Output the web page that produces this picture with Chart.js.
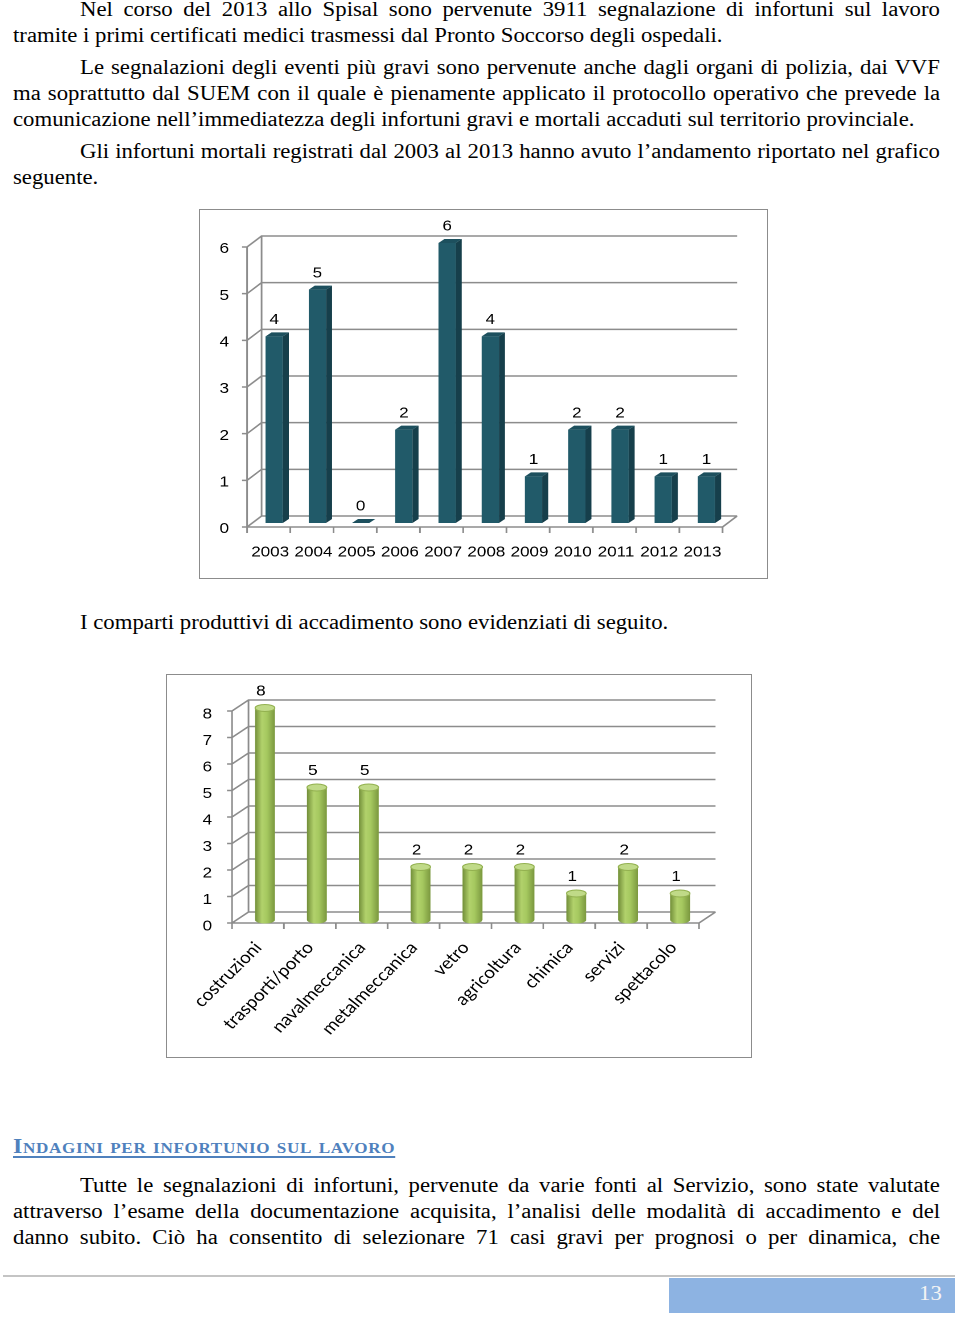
<!DOCTYPE html>
<html>
<head>
<meta charset="utf-8">
<script src="https://cdn.jsdelivr.net/npm/chart.js@4.4.0/dist/chart.umd.min.js"></script>
<style>
    /* the page scan is stretched horizontally by about 1.1375, so text and charts are too */
    body { margin: 0; background: #fff; width: 960px; height: 1319px; position: relative; overflow: hidden;
           font-family: "Liberation Serif", "Times New Roman", serif; font-size: 20px; color: #000; }
    .st { transform: scaleX(1.1375); transform-origin: 0 0; }
    .ln { position: absolute; left: 13px; width: 815px; height: 26px; line-height: 26px; white-space: nowrap; }
    .j { text-align: justify; text-align-last: justify; }
    .ind { left: 80px; width: 756px; }
    .frame { position: absolute; border: 1.5px solid #8c8c8c; box-sizing: border-box; }
    .holder { position: absolute; }
    .heading { position: absolute; left: 13px; top: 1134px; font-size: 21px; font-weight: bold; font-variant: small-caps;
               letter-spacing: 0.6px; color: #4f81bd; text-decoration: underline; text-underline-offset: 3px; white-space: nowrap; }
    .rule { position: absolute; left: 3px; top: 1275px; width: 952px; height: 2px; background: #c4c4c4; }
    .pagebox { position: absolute; left: 669px; top: 1278px; width: 286px; height: 35px; background: #8db3e2; }
    .pagenum { position: absolute; left: 250px; top: 4px; font-size: 20px; color: #f4f4f4; }
</style>
</head>
<body>

<div class="ln ind j st" style="top:-4px">Nel corso del 2013 allo Spisal sono pervenute 3911 segnalazione di infortuni sul lavoro</div>
<div class="ln st" style="top:22px">tramite i primi certificati medici trasmessi dal Pronto Soccorso degli ospedali.</div>
<div class="ln ind j st" style="top:54px">Le segnalazioni degli eventi più gravi sono pervenute anche dagli organi di polizia, dai VVF</div>
<div class="ln j st" style="top:80px">ma soprattutto dal SUEM con il quale è pienamente applicato il protocollo operativo che prevede la</div>
<div class="ln st" style="top:106px">comunicazione nell’immediatezza degli infortuni gravi e mortali accaduti sul territorio provinciale.</div>
<div class="ln ind j st" style="top:138px">Gli infortuni mortali registrati dal 2003 al 2013 hanno avuto l’andamento riportato nel grafico</div>
<div class="ln st" style="top:164px">seguente.</div>

<div class="holder st" style="left:200px;top:210px;width:498.5px;height:368px"><canvas id="yearChart"></canvas></div>
<div class="frame" style="left:199px;top:209px;width:569px;height:370px"></div>

<div class="ln st" style="left:80px;top:609px">I comparti produttivi di accadimento sono evidenziati di seguito.</div>

<div class="holder st" style="left:166px;top:674px;width:514.3px;height:383px"><canvas id="sectorChart"></canvas></div>
<div class="frame" style="left:166px;top:674px;width:586px;height:384px"></div>

<div class="heading st">Indagini per infortunio sul lavoro</div>
<div class="ln ind j st" style="top:1172px">Tutte le segnalazioni di infortuni, pervenute da varie fonti al Servizio, sono state valutate</div>
<div class="ln j st" style="top:1198px">attraverso l’esame della documentazione acquisita, l’analisi delle modalità di accadimento e del</div>
<div class="ln j st" style="top:1224px">danno subito. Ciò ha consentito di selezionare 71 casi gravi per prognosi o per dinamica, che</div>

<div class="rule"></div>
<div class="pagebox"><span class="pagenum st">13</span></div>

<script>
// infortuni mortali per anno
const years = ['2003', '2004', '2005', '2006', '2007', '2008', '2009', '2010', '2011', '2012', '2013'];
const fatalities = [4, 5, 0, 2, 6, 4, 1, 2, 2, 1, 1];
const yearTicks = [0, 1, 2, 3, 4, 5, 6];

// comparti produttivi
const sectors = ['costruzioni', 'trasporti/porto', 'navalmeccanica', 'metalmeccanica', 'vetro',
                 'agricoltura', 'chimica', 'servizi', 'spettacolo'];
const sectorCounts = [8, 5, 5, 2, 2, 2, 1, 2, 1];
const sectorTicks = [0, 1, 2, 3, 4, 5, 6, 7, 8];

const STRETCH = 1.1375;

Chart.defaults.animation = false;
Chart.defaults.font.family = '"Liberation Sans", Arial, sans-serif';
Chart.defaults.color = '#000';

// back wall, side wall and floor of the 3D plot, drawn off the y scale
const wall3d = {
    id: 'wall3d',
    beforeDatasetsDraw(chart, args, o) {
        const { ctx, chartArea: a, scales: { x, y } } = chart;
        const fl = a.left + o.front[0], fr = a.right + o.front[0];
        const bl = a.left + o.back[0], br = a.right + o.back[0];
        const y0 = y.getPixelForValue(0), yTop = y.getPixelForValue(y.max);
        const tick = 5 / STRETCH;
        ctx.save();
        ctx.strokeStyle = '#8c8c8c';
        ctx.lineWidth = 1.5;
        ctx.beginPath();
        o.ticks.forEach(v => {
            const py = y.getPixelForValue(v);
            ctx.moveTo(fl - tick, py + o.front[1]);
            ctx.lineTo(fl, py + o.front[1]);
            ctx.lineTo(bl, py + o.back[1]);
            ctx.lineTo(br, py + o.back[1]);
        });
        ctx.moveTo(fl, yTop + o.front[1]);
        ctx.lineTo(fl, y0 + o.front[1]);
        ctx.moveTo(bl, yTop + o.back[1]);
        ctx.lineTo(bl, y0 + o.back[1]);
        ctx.moveTo(fl, y0 + o.front[1]);
        ctx.lineTo(fr, y0 + o.front[1]);
        ctx.lineTo(br, y0 + o.back[1]);
        const n = x.ticks.length;
        for (let i = 0; i <= n; i++) {
            const px = fl + (fr - fl) * i / n;
            ctx.moveTo(px, y0 + o.front[1]);
            ctx.lineTo(px, y0 + o.front[1] + 6);
        }
        ctx.stroke();
        ctx.restore();
    }
};

// side and top faces for the box bars, or the cylinder shading, plus value labels
const bars3d = {
    id: 'bars3d',
    afterDatasetsDraw(chart, args, o) {
        const { ctx } = chart;
        const meta = chart.getDatasetMeta(0);
        ctx.save();
        meta.data.forEach((el, i) => {
            const l = el.x - el.width / 2, r = el.x + el.width / 2, t = el.y, b = el.base;
            if (o.shape === 'box') {
                const dx = 6 / STRETCH, dy = 4;
                ctx.fillStyle = '#163f4b';
                ctx.beginPath();
                ctx.moveTo(r, t); ctx.lineTo(r + dx, t - dy); ctx.lineTo(r + dx, b - dy); ctx.lineTo(r, b);
                ctx.closePath(); ctx.fill();
                ctx.fillStyle = '#1d505e';
                ctx.beginPath();
                ctx.moveTo(l, t); ctx.lineTo(l + dx, t - dy); ctx.lineTo(r + dx, t - dy); ctx.lineTo(r, t);
                ctx.closePath(); ctx.fill();
            } else {
                const rx = el.width / 2, ry = 3.5;
                const g = ctx.createLinearGradient(l, 0, r, 0);
                g.addColorStop(0, '#738f3a');
                g.addColorStop(0.35, '#b2d26c');
                g.addColorStop(0.6, '#a6c960');
                g.addColorStop(1, '#7b983f');
                ctx.fillStyle = g;
                ctx.beginPath();
                ctx.moveTo(l, t);
                ctx.lineTo(l, b);
                ctx.ellipse(el.x, b, rx, ry, 0, Math.PI, 0, true);
                ctx.lineTo(r, t);
                ctx.closePath();
                ctx.fill();
                ctx.fillStyle = '#c0da88';
                ctx.strokeStyle = '#93b150';
                ctx.lineWidth = 1;
                ctx.beginPath();
                ctx.ellipse(el.x, t, rx, ry, 0, 0, Math.PI * 2);
                ctx.fill();
                ctx.stroke();
            }
            ctx.fillStyle = '#000';
            ctx.font = '15px "Liberation Sans", Arial, sans-serif';
            ctx.textAlign = 'center';
            ctx.textBaseline = 'middle';
            ctx.fillText(String(chart.data.datasets[0].data[i]), el.x + o.labelShift, t - o.labelGap);
        });
        ctx.restore();
    }
};

new Chart(document.getElementById('yearChart'), {
    type: 'bar',
    data: {
        labels: years,
        datasets: [{ data: fatalities, backgroundColor: '#215a69', barPercentage: 0.4, categoryPercentage: 1 }]
    },
    options: {
        responsive: true,
        maintainAspectRatio: false,
        devicePixelRatio: 2,
        layout: { padding: { top: 33, right: 39.5 / STRETCH, left: 0, bottom: 0 } },
        plugins: {
            legend: { display: false },
            tooltip: { enabled: false },
            wall3d: { front: [-5.5 / STRETCH, 4], back: [9 / STRETCH, -7], ticks: yearTicks },
            bars3d: { shape: 'box', labelShift: 0, labelGap: 16.5 }
        },
        scales: {
            x: {
                grid: { display: false, drawTicks: false },
                border: { display: false },
                ticks: { font: { size: 15 }, padding: 20.5, labelOffset: -3.5, autoSkip: false, maxRotation: 0 },
                afterFit: s => { s.height = 55; }
            },
            y: {
                min: 0, max: 6,
                grid: { display: false, drawTicks: false },
                border: { display: false },
                ticks: { font: { size: 15 }, padding: 23.5 / STRETCH, labelOffset: 6 },
                afterBuildTicks: s => { s.ticks = yearTicks.map(v => ({ value: v })); },
                afterFit: s => { s.width = 52.5 / STRETCH; }
            }
        }
    },
    plugins: [wall3d, bars3d]
});

new Chart(document.getElementById('sectorChart'), {
    type: 'bar',
    data: {
        labels: sectors,
        datasets: [{ data: sectorCounts, backgroundColor: '#9bbb59', barPercentage: 0.38, categoryPercentage: 1 }]
    },
    options: {
        responsive: true,
        maintainAspectRatio: false,
        devicePixelRatio: 2,
        layout: { padding: { top: 34, right: 45 / STRETCH, left: 0, bottom: 0 } },
        plugins: {
            legend: { display: false },
            tooltip: { enabled: false },
            wall3d: { front: [-7 / STRETCH, 3], back: [9.5 / STRETCH, -8], ticks: sectorTicks },
            bars3d: { shape: 'cylinder', labelShift: -4 / STRETCH, labelGap: 16.5 }
        },
        scales: {
            x: {
                grid: { display: false, drawTicks: false },
                border: { display: false },
                ticks: { font: { family: 'Lato, "Open Sans", sans-serif', size: 16.7 }, padding: 18, labelOffset: -6,
                         autoSkip: false, minRotation: 48.3, maxRotation: 48.3 },
                afterFit: s => { s.height = 137; }
            },
            y: {
                min: 0, max: 8,
                grid: { display: false, drawTicks: false },
                border: { display: false },
                ticks: { font: { size: 15 }, padding: 27 / STRETCH, labelOffset: 6.5 },
                afterBuildTicks: s => { s.ticks = sectorTicks.map(v => ({ value: v })); },
                afterFit: s => { s.width = 73 / STRETCH; }
            }
        }
    },
    plugins: [wall3d, bars3d]
});
</script>
</body>
</html>
